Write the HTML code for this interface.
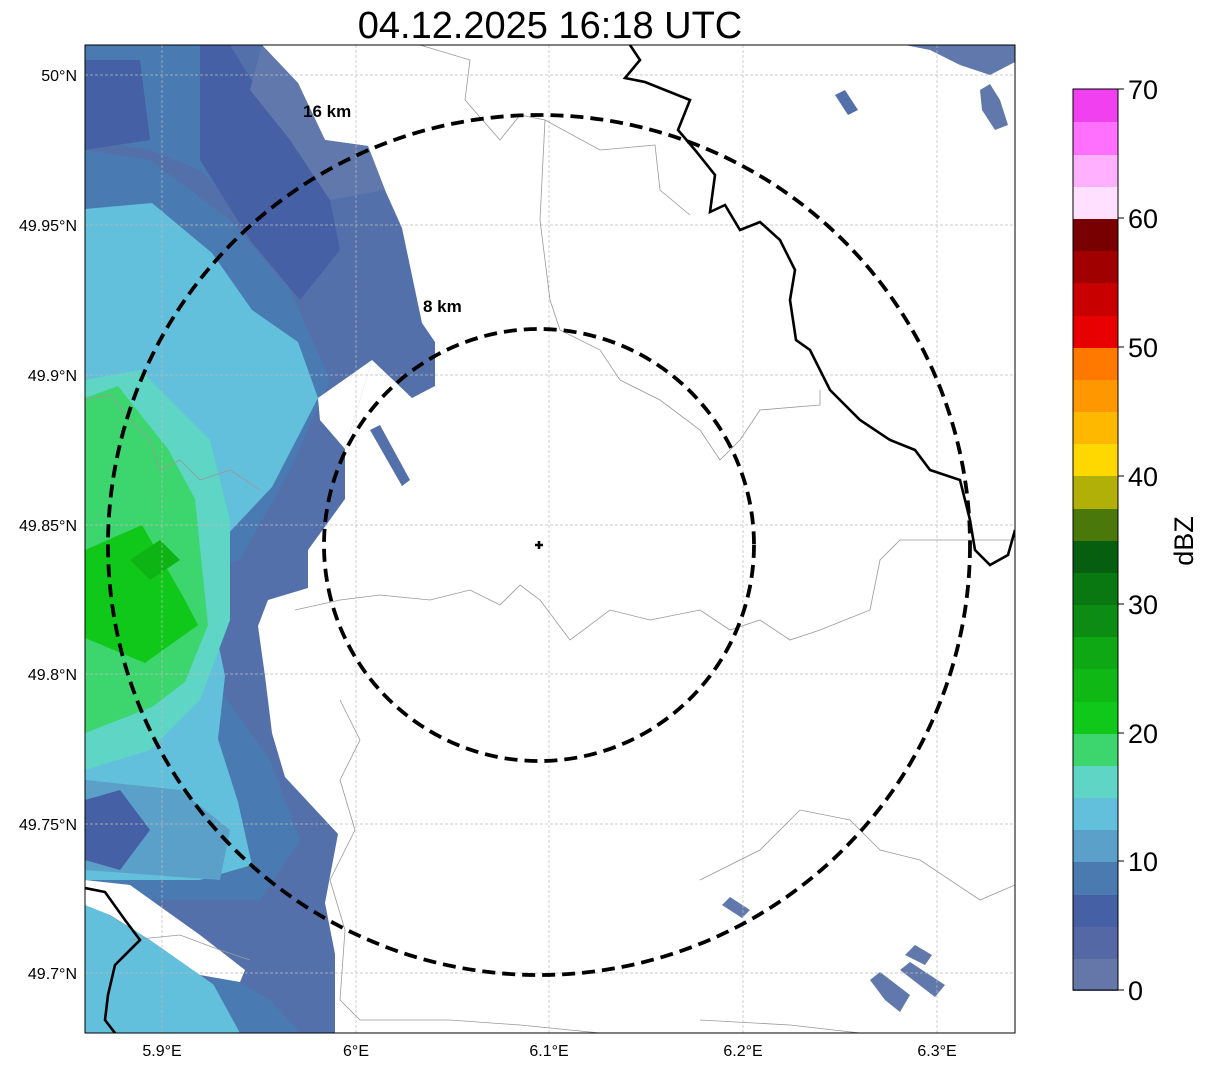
<!DOCTYPE html>
<html><head><meta charset="utf-8"><style>
html,body{margin:0;padding:0;background:#fff;}
body{width:1207px;height:1069px;overflow:hidden;font-family:"Liberation Sans",sans-serif;}
</style></head><body>
<svg width="1207" height="1069" xmlns="http://www.w3.org/2000/svg" font-family="Liberation Sans, sans-serif">
<defs><clipPath id="m"><rect x="85" y="45" width="930" height="988"/></clipPath></defs>
<text x="550" y="38" font-size="38" text-anchor="middle">04.12.2025 16:18 UTC</text>
<g clip-path="url(#m)">
<polygon fill="#5470ab" points="85,45 262,45 298,83 325,140 368,146 385,190 402,228 422,323 435,342 435,386 412,398 372,360 345,449 345,499 308,550 308,588 268,600 258,626 265,676 272,733 285,777 338,834 325,903 335,954 335,1033 85,1033"/>
<polygon fill="#4a7ab2" points="85,45 230,45 250,90 280,150 300,220 250,220 200,170 150,150 85,140"/>
<polygon fill="#4560a5" points="200,45 230,45 270,110 330,200 340,250 300,300 250,240 200,160"/>
<polygon fill="#6078ab" points="262,45 298,83 325,140 368,146 385,190 330,200 290,140 250,90"/>
<polygon fill="#4560a5" points="85,60 140,60 150,140 85,150"/>
<polygon fill="#4a7ab2" points="85,150 150,160 230,220 290,290 330,380 290,470 240,560 85,600"/>
<polygon fill="#4a7ab2" points="85,700 220,690 270,760 300,840 260,900 85,900"/>
<polygon fill="#62c0dc" points="85,209 152,203 212,253 252,310 298,342 318,398 272,487 225,537 212,613 225,676 218,739 238,802 252,865 200,880 85,880"/>
<polygon fill="#5aa0c8" points="85,780 180,790 230,830 220,880 85,870"/>
<polygon fill="#4560a5" points="85,800 120,790 150,830 120,870 85,860"/>
<polygon fill="#62c0dc" points="85,900 150,940 250,1010 270,1033 85,1033"/>
<polygon fill="#4a7ab2" points="200,960 270,1000 300,1033 240,1033"/>
<polygon fill="#5fd5c5" points="85,380 140,370 210,440 230,520 230,620 200,700 150,750 85,770"/>
<polygon fill="#3dd66e" points="85,398 118,386 168,449 195,499 208,625 185,682 152,707 85,733"/>
<polygon fill="#10c81a" points="85,550 142,525 185,600 198,625 145,663 85,638"/>
<polygon fill="#0eb414" points="130,560 160,540 180,560 150,580"/>
<polygon fill="#fff" points="85,880 130,885 200,935 245,970 240,982 200,975 150,940 110,915 85,905"/>
<polygon fill="#fff" points="372,360 345,449 320,420 318,398"/>
<polygon fill="#5470ab" points="370,430 380,425 410,480 402,486"/>
<polygon fill="#5470ab" points="835,95 845,90 858,110 848,115"/>
<polygon fill="#6078ab" points="905,45 1015,45 1015,62 990,75 960,65 930,50"/>
<polygon fill="#6078ab" points="980,90 990,84 1000,100 1008,125 995,130 982,110"/>
<polygon fill="#6078ab" points="722,905 730,897 750,910 742,918"/>
<polygon fill="#6078ab" points="870,980 880,972 910,995 900,1012 885,1000"/>
<polygon fill="#6078ab" points="900,970 910,962 945,985 935,997"/>
<polygon fill="#6078ab" points="905,955 915,945 932,955 925,965"/>
<g stroke="#bbb" stroke-width="0.7" stroke-dasharray="3,2">
<line x1="162" y1="45" x2="162" y2="1033"/><line x1="356" y1="45" x2="356" y2="1033"/><line x1="549" y1="45" x2="549" y2="1033"/><line x1="743" y1="45" x2="743" y2="1033"/><line x1="937" y1="45" x2="937" y2="1033"/>
<line x1="85" y1="75" x2="1015" y2="75"/><line x1="85" y1="225" x2="1015" y2="225"/><line x1="85" y1="375" x2="1015" y2="375"/><line x1="85" y1="525" x2="1015" y2="525"/><line x1="85" y1="674" x2="1015" y2="674"/><line x1="85" y1="824" x2="1015" y2="824"/><line x1="85" y1="973" x2="1015" y2="973"/>
</g>
<g fill="none" stroke="#999" stroke-width="0.8">
<path d="M295,610 L340,600 L380,595 L430,600 L470,590 L500,605 L520,585 L540,600 L570,640 L610,610 L650,620 L700,610 L730,630 L760,620 L790,640 L820,630 L870,610 L880,560 L900,540 L1015,540"/>
<path d="M420,45 L470,60 L465,100 L500,140 L520,115 L545,120 L540,220 L550,300 L560,330 L600,350 L620,380 L660,400 L700,430 L720,460 L740,440 L760,410 L820,405 L820,390"/>
<path d="M545,120 L600,150 L655,145 L660,190 L690,215"/>
<path d="M340,700 L360,740 L340,780 L355,830 L330,880 L345,930 L340,1000 L360,1020 L450,1020 L520,1025 L600,1033"/>
<path d="M700,880 L760,850 L800,810 L850,820 L880,850 L920,860 L980,900 L1015,885"/>
<path d="M85,400 L110,395 L130,420 L150,440 L160,470 L180,460 L200,480 L230,470 L260,490"/>
<path d="M130,940 L180,935 L220,950 L250,960"/>
<path d="M700,1020 L790,1025 L860,1033"/>
</g>
<g fill="none" stroke="#000" stroke-width="2.6">
<path d="M630,45 L640,60 L625,78 L645,82 L690,100 L678,130 L695,150 L715,175 L710,212 L725,205 L740,230 L760,222 L780,240 L795,270 L790,300 L796,340 L810,350 L830,390 L860,420 L890,440 L915,450 L930,470 L960,480 L965,500 L970,520 L975,550 L990,565 L1008,555 L1015,530"/>
<path d="M85,888 L105,892 L125,920 L140,940 L115,965 L108,995 L105,1020 L115,1033"/>
</g>
</g>
<g fill="none" stroke="#000" stroke-width="3.8" stroke-dasharray="13,7">
<ellipse cx="539" cy="545" rx="431" ry="430"/>
<ellipse cx="539" cy="545" rx="215" ry="216"/>
</g>
<path d="M535,545 H543 M539,541 V549" stroke="#000" stroke-width="2.5"/>
<text x="303" y="117" font-size="17" font-weight="bold">16 km</text>
<text x="423" y="312" font-size="17" font-weight="bold">8 km</text>
<rect x="85" y="45" width="930" height="988" fill="none" stroke="#000" stroke-width="1"/>
<g font-size="16" text-anchor="middle">
<text x="162" y="1056">5.9°E</text><text x="356" y="1056">6°E</text><text x="549" y="1056">6.1°E</text><text x="743" y="1056">6.2°E</text><text x="937" y="1056">6.3°E</text>
</g>
<g font-size="16" text-anchor="end">
<text x="77" y="81">50°N</text><text x="77" y="231">49.95°N</text><text x="77" y="381">49.9°N</text><text x="77" y="531">49.85°N</text><text x="77" y="680">49.8°N</text><text x="77" y="830">49.75°N</text><text x="77" y="979">49.7°N</text>
</g>
<g>
<rect x="1073" y="958" width="45" height="33" fill="#6577a8"/>
<rect x="1073" y="926" width="45" height="33" fill="#5468a5"/>
<rect x="1073" y="894" width="45" height="33" fill="#4560a5"/>
<rect x="1073" y="862" width="45" height="33" fill="#4a7ab0"/>
<rect x="1073" y="829" width="45" height="33" fill="#5aa0c8"/>
<rect x="1073" y="797" width="45" height="33" fill="#62c0dc"/>
<rect x="1073" y="765" width="45" height="33" fill="#5fd5c5"/>
<rect x="1073" y="733" width="45" height="33" fill="#3dd66e"/>
<rect x="1073" y="701" width="45" height="33" fill="#10c81a"/>
<rect x="1073" y="669" width="45" height="33" fill="#10b816"/>
<rect x="1073" y="636" width="45" height="33" fill="#0ea814"/>
<rect x="1073" y="604" width="45" height="33" fill="#0c8c12"/>
<rect x="1073" y="572" width="45" height="33" fill="#0a7810"/>
<rect x="1073" y="540" width="45" height="33" fill="#065f0e"/>
<rect x="1073" y="508" width="45" height="33" fill="#4a780a"/>
<rect x="1073" y="476" width="45" height="33" fill="#b0b008"/>
<rect x="1073" y="443" width="45" height="33" fill="#ffd800"/>
<rect x="1073" y="411" width="45" height="33" fill="#ffb800"/>
<rect x="1073" y="379" width="45" height="33" fill="#ff9800"/>
<rect x="1073" y="347" width="45" height="33" fill="#ff7800"/>
<rect x="1073" y="315" width="45" height="33" fill="#e80000"/>
<rect x="1073" y="283" width="45" height="33" fill="#c80000"/>
<rect x="1073" y="250" width="45" height="33" fill="#a00000"/>
<rect x="1073" y="218" width="45" height="33" fill="#780000"/>
<rect x="1073" y="186" width="45" height="33" fill="#ffe0ff"/>
<rect x="1073" y="154" width="45" height="33" fill="#ffb0ff"/>
<rect x="1073" y="122" width="45" height="33" fill="#ff70ff"/>
<rect x="1073" y="89" width="45" height="33" fill="#f040f0"/>
<rect x="1073" y="89" width="45" height="901" fill="none" stroke="#000" stroke-width="1"/>
<g stroke="#000" stroke-width="1"><line x1="1118" y1="990" x2="1124" y2="990"/><line x1="1118" y1="861" x2="1124" y2="861"/><line x1="1118" y1="733" x2="1124" y2="733"/><line x1="1118" y1="604" x2="1124" y2="604"/><line x1="1118" y1="476" x2="1124" y2="476"/><line x1="1118" y1="347" x2="1124" y2="347"/><line x1="1118" y1="218" x2="1124" y2="218"/><line x1="1118" y1="89" x2="1124" y2="89"/></g>
<g font-size="27"><text x="1128" y="1000">0</text><text x="1128" y="871">10</text><text x="1128" y="743">20</text><text x="1128" y="614">30</text><text x="1128" y="486">40</text><text x="1128" y="357">50</text><text x="1128" y="228">60</text><text x="1128" y="99">70</text></g>
<text x="0" y="0" font-size="27" transform="translate(1193,541) rotate(-90)" text-anchor="middle">dBZ</text>
</g>
</svg>
</body></html>
